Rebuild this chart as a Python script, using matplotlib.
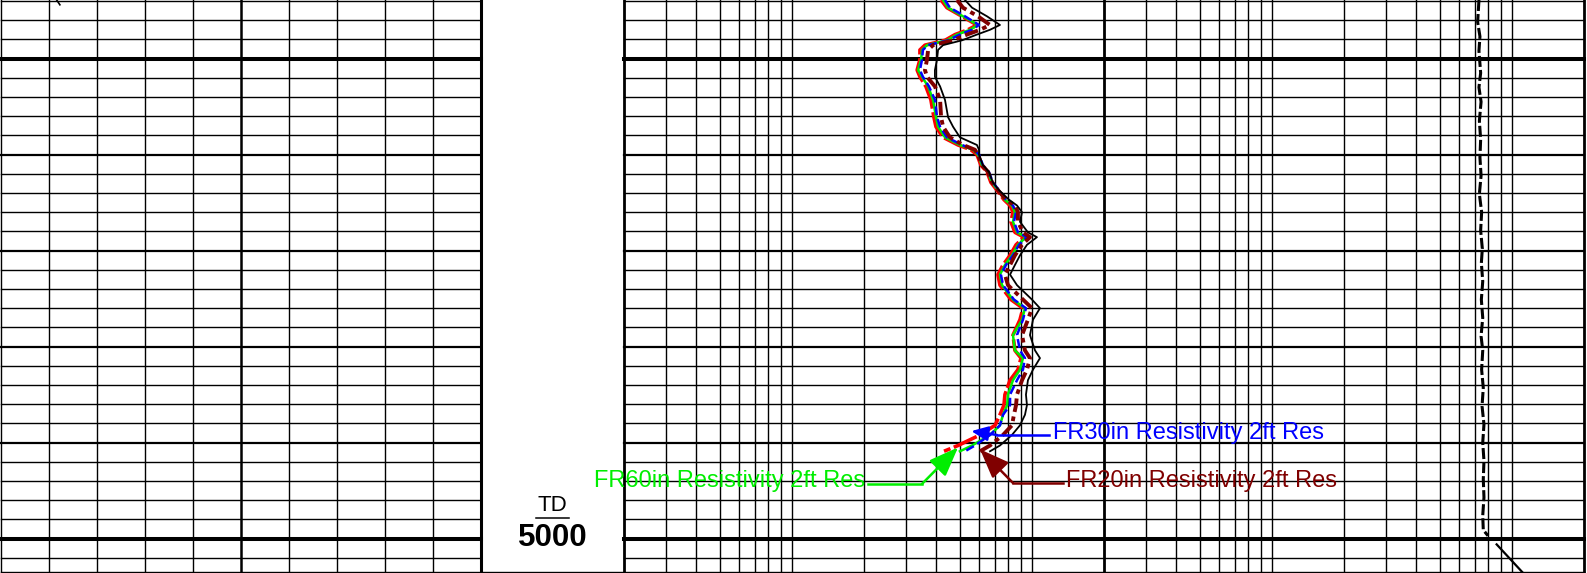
import numpy as np
import matplotlib.pyplot as plt

plt.rcParams['font.family'] = ['Liberation Sans', 'DejaVu Sans']
plt.rcParams['lines.solid_joinstyle'] = 'round'
plt.rcParams['lines.dash_joinstyle'] = 'round'

W, H = 1587, 573
top_depth, base_depth = 4943.9, 5003.58

# resistivity curves (ohm-m), all sampled on the same depths (ft)
depth = [4943.9, 4944.7, 4945.6, 4946.5, 4947.0, 4947.5, 4948.1, 4948.6, 4949.1, 4950.1,
         4951.2, 4951.9, 4952.9, 4954.3, 4956.1, 4957.1, 4958.2, 4959.0, 4959.5, 4960.0,
         4961.1, 4961.8, 4962.9, 4963.7, 4964.7, 4965.3, 4966.0, 4967.0, 4968.1, 4968.6,
         4969.4, 4970.5, 4971.5, 4972.5, 4973.6, 4975.1, 4976.0, 4977.2, 4978.8, 4980.4,
         4981.2, 4982.4, 4983.5, 4985.0, 4986.1, 4987.1, 4988.2, 4989.2, 4990.3, 4990.9]
fr90 = [4.19, 4.43, 5.12, 5.91, 5.42, 4.79, 4.35, 3.59, 3.42, 3.42,
        3.33, 3.42, 3.62, 3.80, 3.91, 3.99, 4.27, 4.93, 5.58, 5.91,
        6.14, 6.51, 6.76, 7.16, 7.66, 8.12, 8.35, 8.19, 8.51, 9.28,
        8.60, 8.12, 7.59, 7.23, 7.37, 8.19, 9.19, 8.93, 8.35, 8.51,
        9.02, 8.76, 8.12, 7.73, 7.66, 7.37, 7.03, 6.09, 4.93, 4.31]
fr60 = [4.27, 4.48, 5.17, 5.97, 5.53, 4.88, 4.43, 3.66, 3.49, 3.46,
        3.36, 3.49, 3.70, 3.88, 3.99, 4.07, 4.35, 5.02, 5.69, 5.97,
        6.20, 6.57, 6.83, 7.23, 7.73, 8.27, 8.51, 8.35, 8.68, 9.46,
        8.76, 8.27, 7.73, 7.37, 7.52, 8.35, 9.37, 9.11, 8.35, 8.51,
        9.19, 8.93, 8.35, 7.96, 7.89, 7.59, 7.37, 6.70, 5.64, 5.02]
fr30 = [4.35, 4.56, 5.27, 6.03, 5.64, 5.02, 4.48, 3.70, 3.52, 3.49,
        3.42, 3.52, 3.73, 3.95, 4.03, 4.15, 4.43, 5.12, 5.75, 6.03,
        6.26, 6.63, 6.89, 7.30, 7.81, 8.35, 8.60, 8.43, 8.76, 9.55,
        8.85, 8.35, 7.81, 7.44, 7.59, 8.43, 9.46, 9.19, 8.68, 8.93,
        9.37, 9.19, 8.68, 8.12, 8.12, 7.59, 7.37, 6.70, 5.80, 5.27]
fr20 = [4.88, 5.17, 5.97, 6.70, 6.09, 5.37, 4.70, 3.88, 3.70, 3.66,
        3.59, 3.66, 3.95, 4.15, 4.19, 4.27, 4.56, 5.17, 5.80, 5.97,
        6.20, 6.57, 6.83, 7.23, 7.81, 8.51, 8.76, 8.76, 9.19, 9.83,
        9.11, 8.51, 8.12, 7.73, 7.96, 9.19, 10.02, 9.64, 9.11, 9.37,
        9.83, 9.55, 9.11, 8.68, 8.60, 8.43, 8.27, 7.59, 6.70, 6.09]
fr10 = [5.27, 5.64, 6.51, 7.37, 6.70, 5.91, 5.12, 4.27, 4.07, 4.03,
        3.95, 3.95, 4.15, 4.35, 4.48, 4.70, 5.02, 5.91, 6.03, 6.03,
        6.26, 6.63, 6.89, 7.30, 8.04, 8.68, 9.11, 8.93, 9.64, 10.51,
        9.55, 8.93, 8.51, 8.12, 8.68, 10.02, 10.82, 10.12, 9.83, 10.32,
        10.82, 10.12, 9.64, 9.46, 9.55, 9.37, 8.93, 8.27, 7.37, 6.70]

# deep curve near the right edge of the resistivity track
far_depth = [4943.9, 4946.2, 4947.7, 4949.2, 4951.5, 4953.0, 4954.5, 4956.5, 4958.4, 4960.3,
             4962.2, 4964.1, 4966.0, 4967.9, 4969.8, 4971.3, 4973.2, 4975.1, 4977.0, 4978.9,
             4980.4, 4982.4, 4984.3, 4986.2, 4988.1, 4990.0, 4991.9, 4993.8, 4995.7, 4997.6,
             4999.1, 4999.7]
far_res = [730, 721, 737, 730, 742, 730, 745, 733, 742, 737,
           745, 733, 749, 742, 754, 747, 757, 747, 757, 745,
           757, 749, 761, 752, 766, 757, 766, 761, 766, 757,
           761, 796]
tail_depth = [5000.6, 5003.6, 5004.2]
tail_res = [865, 1117, 1160]

# gamma ray stub in track 1
gr_depth = [4943.5, 4944.4]
gr = [16.6, 18.4]

fig = plt.figure(figsize=(W / 100, H / 100), dpi=100)


def track(x0, x1):
    ax = fig.add_axes([x0 / W, 0, (x1 - x0) / W, 1])
    ax.set_ylim(base_depth, top_depth)
    ax.axis('off')
    return ax


ax1 = track(1, 481)
ax2 = track(481, 624)
ax3 = track(624, 1584)
ax1.set_xlim(0, 150)
ax2.set_xlim(0, 1)
ax3.set_xscale('log')
ax3.set_xlim(0.2, 2000)

# depth lines
for ax in (ax1, ax3):
    for d in range(4944, 5004, 2):
        if d % 50 == 0:
            lw = 2.9
        elif d % 10 == 0:
            lw = 1.6
        else:
            lw = 1.0
        ax.axhline(d, color='black', lw=lw, zorder=1, clip_on=False)

for i in range(11):
    lw = {0: 1.0, 5: 1.8, 10: 2.2}.get(i, 1.0)
    ax1.axvline(i * 15, color='black', lw=lw, zorder=1, clip_on=False)

for e in range(-1, 4):
    for m in range(1, 10):
        v = m * 10.0 ** e
        if v < 0.199 or v > 2001:
            continue
        thick = m == 2 and e in (-1, 1, 3)
        ax3.axvline(v, color='black', lw=2.0 if thick else 1.0, zorder=1, clip_on=False)

for ax in (ax1, ax2, ax3):
    ax.axhline(5003.43, color='black', lw=1.0, zorder=1, clip_on=False)

# curves
ax1.plot(gr, gr_depth, color='black', lw=1.2, zorder=3)
ax3.plot(fr90, depth, color='red', lw=2.6, ls=(0, (7, 1.0)), zorder=3)
ax3.plot(fr60, depth, color='#00ee00', lw=1.8, zorder=4)
ax3.plot(fr30, depth, color='blue', lw=1.8, ls=(0, (3.5, 1.6)), zorder=5)
ax3.plot(fr20, depth, color='#800000', lw=2.8, ls=(0, (3.5, 1.2, 1.2, 1.2)), zorder=6)
ax3.plot(fr10, depth, color='black', lw=1.3, zorder=7)
ax3.plot(far_res, far_depth, color='black', lw=2.2, ls=(0, (3.6, 1.0)), zorder=3)
ax3.plot(tail_res, tail_depth, color='black', lw=1.6, zorder=3)

# curve labels with leader arrows
fs = 17
ax3.text(12.3, 4989.0, 'FR30in Resistivity 2ft Res', color='blue', fontsize=fs,
         ha='left', va='center', zorder=8, clip_on=False)
ax3.plot([11.8, 7.16], [4989.2, 4989.2], color='blue', lw=1.8, zorder=8)
ax3.annotate('', xy=(5.6, 4988.8), xytext=(7.16, 4989.2), annotation_clip=False, zorder=8,
             arrowprops=dict(arrowstyle='-|>,head_length=0.5,head_width=0.22',
                             mutation_scale=20, color='blue', lw=1.8, shrinkA=0, shrinkB=0))

ax3.text(13.9, 4994.0, 'FR20in Resistivity 2ft Res', color='#800000', fontsize=fs,
         ha='left', va='center', zorder=8, clip_on=False)
ax3.plot([13.5, 8.35], [4994.2, 4994.2], color='#800000', lw=1.8, zorder=8)
ax3.annotate('', xy=(6.09, 4990.7), xytext=(8.35, 4994.2), annotation_clip=False, zorder=8,
             arrowprops=dict(arrowstyle='-|>,head_length=0.9,head_width=0.35',
                             mutation_scale=20, color='#800000', lw=1.8, shrinkA=0, shrinkB=0))

ax3.text(2.02, 4994.0, 'FR60in Resistivity 2ft Res', color='#00ee00', fontsize=fs,
         ha='right', va='center', zorder=8, clip_on=False)
ax3.plot([2.07, 3.49], [4994.3, 4994.3], color='#00ee00', lw=1.8, zorder=8)
ax3.annotate('', xy=(4.93, 4990.5), xytext=(3.49, 4994.3), annotation_clip=False, zorder=8,
             arrowprops=dict(arrowstyle='-|>,head_length=0.9,head_width=0.35',
                             mutation_scale=20, color='#00ee00', lw=1.8, shrinkA=0, shrinkB=0))

# total depth marker
ax2.text(0.5, 4996.5, 'TD', fontsize=16, ha='center', va='center')
ax2.plot([0.385, 0.615], [4997.85, 4997.85], color='black', lw=1.1)
ax2.text(0.5, 4999.9, '5000', fontsize=22.5, fontweight='bold', ha='center', va='center')

fig.savefig('out.png', dpi=100)
